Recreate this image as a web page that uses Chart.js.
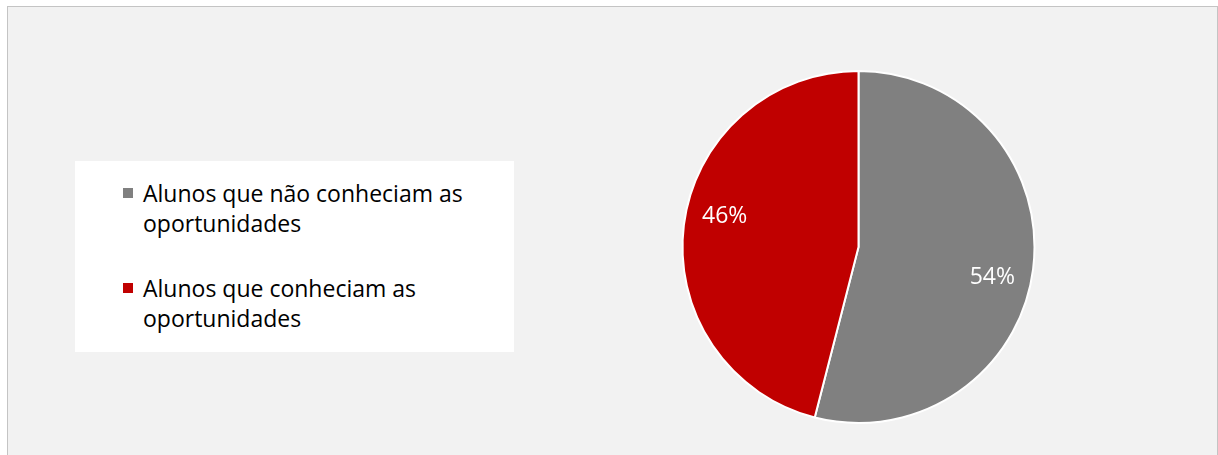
<!DOCTYPE html>
<html>
<head>
<meta charset="utf-8">
<script src="https://cdn.jsdelivr.net/npm/chart.js@4"></script>
<style>
  body { margin: 0; background: #fff; font-family: "Open Sans", Lato, sans-serif; }
  #frame {
    position: absolute; left: 7px; top: 6px; width: 1209px; height: 470px;
    border: 1px solid #c4c4c4; background: #f2f2f2;
  }
  #chartBox { position: absolute; left: 0; top: 0; width: 1218px; height: 455px; }
  #legend {
    position: absolute; left: 75px; top: 161px; width: 439px; height: 191px;
    background: #fff; box-sizing: border-box; padding: 17px 0 0 48px;
  }
  .item { display: flex; align-items: flex-start; margin-bottom: 35px; }
  .box { width: 10px; height: 10px; margin-top: 10px; margin-right: 10px; flex: none; }
  .txt { width: 345px; font-size: 23px; line-height: 30px; color: #000; }
</style>
</head>
<body>
<div id="frame"></div>
<div id="chartBox"><canvas id="chart" width="1218" height="455"></canvas></div>
<div id="legend"></div>
<script>
// data
const labels = ['Alunos que não conheciam as oportunidades', 'Alunos que conheciam as oportunidades'];
const values = [54, 46];
const colors = ['#808080', '#c00000'];

// legend on the left, white card
const legend = document.getElementById('legend');
labels.forEach((lbl, i) => {
  const row = document.createElement('div');
  row.className = 'item';
  row.innerHTML = `<span class="box" style="background:${colors[i]}"></span><span class="txt">${lbl}</span>`;
  legend.appendChild(row);
});

// percentage labels inside the slices
const pctLabels = {
  id: 'pctLabels',
  afterDatasetsDraw(chart) {
    const ctx = chart.ctx;
    const meta = chart.getDatasetMeta(0);
    const total = values.reduce((a, b) => a + b, 0);
    ctx.save();
    ctx.fillStyle = '#fff';
    ctx.font = '23px "Open Sans", Lato, sans-serif';
    ctx.textAlign = 'center';
    ctx.textBaseline = 'middle';
    meta.data.forEach((arc, i) => {
      const { x, y, startAngle, endAngle, outerRadius } = arc.getProps(['x', 'y', 'startAngle', 'endAngle', 'outerRadius'], true);
      const a = (startAngle + endAngle) / 2 + 0.1;
      const r = outerRadius * 0.78;
      ctx.fillText(Math.round(values[i] / total * 100) + '%', x + Math.cos(a) * r, y + Math.sin(a) * r);
    });
    ctx.restore();
  }
};

new Chart(document.getElementById('chart'), {
  type: 'pie',
  data: {
    labels,
    datasets: [{ data: values, backgroundColor: colors, borderColor: '#fff', borderWidth: 2 }]
  },
  options: {
    responsive: false,
    animation: false,
    radius: 176,
    layout: { padding: { left: 600, right: 101, top: 60, bottom: 21 } },
    plugins: { legend: { display: false }, tooltip: { enabled: false } }
  },
  plugins: [pctLabels]
});
</script>
</body>
</html>
